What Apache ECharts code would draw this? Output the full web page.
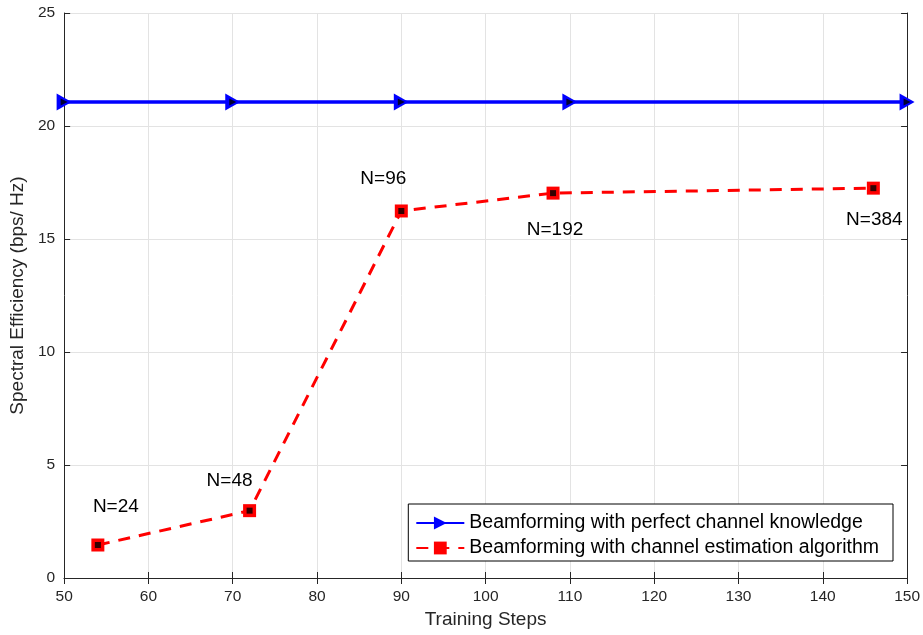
<!DOCTYPE html>
<html>
<head>
<meta charset="utf-8">
<script src="https://cdn.jsdelivr.net/npm/echarts@6/dist/echarts.min.js"></script>
<style>
  html, body { margin: 0; padding: 0; background: #fff; }
  #chart { width: 923px; height: 635px; }
</style>
</head>
<body>
<div id="chart"></div>
<script>
// Spectral efficiency versus training steps
const perfectSteps = [50, 70, 90, 110, 150];
const perfectSE = [21.06, 21.06, 21.06, 21.06, 21.06];
const estSteps = [54, 72, 90, 108, 146];
const estSE = [1.46, 2.98, 16.24, 17.03, 17.25];
const estLabels = ['N=24', 'N=48', 'N=96', 'N=192', 'N=384'];
const seriesNames = [
  'Beamforming with perfect channel knowledge',
  'Beamforming with channel estimation algorithm'
];

// label placement per point (pixel offsets from the marker)
const labelOffsets = [[18, -38], [-20, -30], [-18, -32], [2, 37], [1, 32]];

const FONT = 'Liberation Sans, Arial, Helvetica, sans-serif';
const pair = (xs, ys) => xs.map((x, i) => [x, ys[i]]);

const axisCommon = {
  axisLine: { show: true, lineStyle: { color: '#262626', width: 1 } },
  axisTick: { show: true, inside: true, length: 6, lineStyle: { color: '#262626' } },
  splitLine: { show: false }
};

const chart = echarts.init(document.getElementById('chart'), null, { renderer: 'canvas' });
chart.setOption({
  animation: false,
  backgroundColor: '#fff',
  textStyle: { fontFamily: FONT },
  grid: { left: 64, right: 15, top: 13, bottom: 57, containLabel: false },
  legend: {
    orient: 'vertical',
    right: 30,
    bottom: 74,
    itemGap: 5,
    itemWidth: 48,
    itemHeight: 16,
    padding: [9, 14, 3, 7],
    borderColor: '#000',
    borderWidth: 1,
    backgroundColor: '#fff',
    textStyle: { fontFamily: FONT, fontSize: 19.5, lineHeight: 19, color: '#000' },
    data: seriesNames
  },
  xAxis: [
    {
      type: 'value', min: 50, max: 150, interval: 10, position: 'bottom',
      name: 'Training Steps', nameLocation: 'middle', nameGap: 31,
      nameTextStyle: { fontFamily: FONT, fontSize: 19, color: '#262626' },
      axisLabel: { fontFamily: FONT, fontSize: 15.5, color: '#262626', margin: 11 },
      ...axisCommon,
      splitLine: { show: true, lineStyle: { color: '#e3e3e3', width: 1 } }
    },
    {
      type: 'value', min: 50, max: 150, interval: 10, position: 'top',
      axisLabel: { show: false }, ...axisCommon
    }
  ],
  yAxis: [
    {
      type: 'value', min: 0, max: 25, interval: 5, position: 'left',
      name: 'Spectral Efficiency (bps/ Hz)', nameLocation: 'middle', nameGap: 35,
      nameTextStyle: { fontFamily: FONT, fontSize: 19, color: '#262626' },
      axisLabel: { fontFamily: FONT, fontSize: 15.5, color: '#262626', margin: 9 },
      ...axisCommon,
      splitLine: { show: true, lineStyle: { color: '#e3e3e3', width: 1 } }
    },
    {
      type: 'value', min: 0, max: 25, interval: 5, position: 'right',
      axisLabel: { show: false }, ...axisCommon
    }
  ],
  series: [
    {
      name: seriesNames[0],
      type: 'line',
      data: pair(perfectSteps, perfectSE),
      symbol: 'triangle',
      symbolRotate: -90,
      symbolSize: [17, 15],
      itemStyle: { color: '#0000ff' },
      lineStyle: { color: '#0000ff', width: 3.5 },
      z: 3
    },
    {
      name: seriesNames[1],
      type: 'line',
      data: pair(estSteps, estSE).map((d, i) => ({
        value: d,
        label: {
          show: true,
          formatter: estLabels[i],
          position: 'inside',
          offset: labelOffsets[i],
          fontFamily: FONT,
          fontSize: 19,
          color: '#000'
        }
      })),
      symbol: 'rect',
      symbolSize: 13,
      itemStyle: { color: '#ff0000' },
      lineStyle: { color: '#ff0000', width: 3, type: [12, 9] },
      z: 3
    },
    // black centres of the markers
    {
      type: 'scatter',
      data: pair(perfectSteps, perfectSE),
      symbol: 'triangle',
      symbolRotate: -90,
      symbolSize: 7,
      itemStyle: { color: '#000' },
      silent: true,
      z: 4
    },
    {
      type: 'scatter',
      data: pair(estSteps, estSE),
      symbol: 'rect',
      symbolSize: 6,
      itemStyle: { color: '#000' },
      silent: true,
      z: 4
    }
  ]
});
</script>
</body>
</html>
